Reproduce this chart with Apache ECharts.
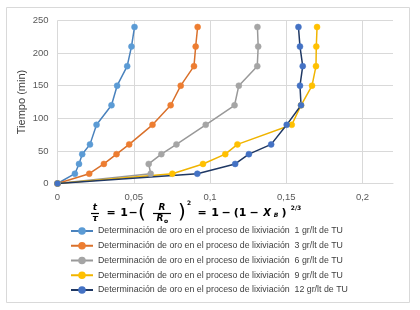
<!DOCTYPE html>
<html>
<head>
<meta charset="utf-8">
<script src="https://cdn.jsdelivr.net/npm/echarts@6/dist/echarts.min.js"></script>
<style>
html,body{margin:0;padding:0;background:#fff;}
#c{width:420px;height:310px;}
</style>
</head>
<body>
<div id="c"></div>
<script>
// Tiempo (min) — y values
var tiempo = [0, 15, 30, 45, 60, 90, 120, 150, 180, 210, 240];
// t/τ values (x) per series
var s1 = [0, 0.0114, 0.0141, 0.0162, 0.0213, 0.0256, 0.0354, 0.0391, 0.0457, 0.0485, 0.0505];
var s2 = [0, 0.0208, 0.0304, 0.0387, 0.0470, 0.0623, 0.0742, 0.0808, 0.0895, 0.0906, 0.0919];
var s3 = [0, 0.0611, 0.0598, 0.0681, 0.0780, 0.0972, 0.1161, 0.1189, 0.1310, 0.1316, 0.1311];
var s4 = [0, 0.0753, 0.0954, 0.1100, 0.1180, 0.1536, 0.1597, 0.1669, 0.1695, 0.1697, 0.1702];
var s5 = [0, 0.0917, 0.1165, 0.1255, 0.1401, 0.1503, 0.1597, 0.1590, 0.1608, 0.1590, 0.1580];
var seriesNames = [
  'Determinación de oro en el proceso de lixiviación  1 gr/lt de TU',
  'Determinación de oro en el proceso de lixiviación  3 gr/lt de TU',
  'Determinación de oro en el proceso de lixiviación  6 gr/lt de TU',
  'Determinación de oro en el proceso de lixiviación  9 gr/lt de TU',
  'Determinación de oro en el proceso de lixiviación  12 gr/lt de TU'
];
var xTicks = [0, 0.05, 0.1, 0.15, 0.2];
var yTicks = [0, 50, 100, 150, 200, 250];

var markerColors = ['#5B9BD5', '#ED7D31', '#A5A5A5', '#FFC000', '#4472C4'];
var lineColors = ['#4a82bd', '#d9702b', '#999999', '#f0b400', '#1f3864'];
var allX = [s1, s2, s3, s4, s5];

function pairs(xs) { return xs.map(function (v, i) { return [v, tiempo[i]]; }); }

var series = allX.map(function (xs, k) {
  return {
    name: seriesNames[k],
    type: 'line',
    data: pairs(xs),
    symbol: 'circle',
    symbolSize: 6,
    showSymbol: true,
    smooth: false,
    lineStyle: { color: lineColors[k], width: 1.5 },
    itemStyle: { color: markerColors[k], borderColor: markerColors[k], borderWidth: 0.5 },
    emphasis: { disabled: true },
    animation: false
  };
});

var eqFont = 'DejaVu Sans';
function T(x, y, s, size, style, weight) {
  return { type: 'text', x: x, y: y, style: { text: s, font: (style || 'normal') + ' ' + (weight || 'bold') + ' ' + size + 'px "' + eqFont + '"', fill: '#000', align: 'center', verticalAlign: 'middle' } };
}
function L(x1, x2, y) {
  return { type: 'line', shape: { x1: x1, y1: y, x2: x2, y2: y }, style: { stroke: '#000', lineWidth: 1.2 } };
}

var chart = echarts.init(document.getElementById('c'), null, { renderer: 'canvas' });
chart.setOption({
  backgroundColor: '#fff',
  animation: false,
  grid: { left: 57.5, right: 27, top: 20.5, bottom: 126.5, containLabel: false },
  xAxis: {
    type: 'value', min: 0, max: 0.22, interval: 0.05,
    axisLine: { show: true, lineStyle: { color: '#d9d9d9' } },
    axisTick: { show: false },
    axisLabel: {
      color: '#595959', fontSize: 9.5, fontFamily: 'Liberation Sans', margin: 9,
      showMaxLabel: false,
      formatter: function (v) { return xTicks.indexOf(v) >= 0 ? String(v).replace('.', ',') : ''; }
    },
    splitLine: { show: true, lineStyle: { color: ['#d9d9d9', '#d9d9d9', '#d9d9d9', '#d9d9d9', '#d9d9d9', 'rgba(0,0,0,0)'], width: 1 } }
  },
  yAxis: {
    type: 'value', min: 0, max: 250, interval: 50,
    name: 'Tiempo (min)', nameLocation: 'middle', nameGap: 30, nameMoveOverlap: false,
    nameTextStyle: { color: '#404040', fontSize: 11, fontFamily: 'Liberation Sans' },
    axisLine: { show: false },
    axisTick: { show: false },
    axisLabel: {
      color: '#595959', fontSize: 9.5, fontFamily: 'Liberation Sans', margin: 9,
      formatter: function (v) { return yTicks.indexOf(v) >= 0 ? String(v) : ''; }
    },
    splitLine: { show: true, lineStyle: { color: '#d9d9d9', width: 1 } }
  },
  legend: {
    orient: 'vertical', left: 70, top: 226.5, padding: 0,
    itemWidth: 22, itemHeight: 7, itemGap: 5.75,
    data: seriesNames,
    selectedMode: false,
    textStyle: { color: '#404040', fontSize: 8.8, lineHeight: 9, fontFamily: 'Liberation Sans' }
  },
  graphic: [
    { type: 'rect', shape: { x: 6.5, y: 7.5, width: 403, height: 295 }, style: { fill: 'none', stroke: '#d9d9d9', lineWidth: 1 }, z: -1 },
    T(95, 208, 't', 9, 'italic'),
    L(91, 99, 213.5),
    T(95, 219, 'τ', 9, 'italic'),
    T(111, 213, '=', 11),
    T(124, 213, '1', 11),
    T(133, 213, '−', 11),
    T(142, 213, '(', 20, 'normal', 'normal'),
    T(162, 208, 'R', 9, 'italic'),
    L(153, 171, 213.5),
    T(160, 219, 'R', 9, 'italic'),
    T(166, 221, 'o', 6),
    T(182, 213, ')', 20, 'normal', 'normal'),
    T(189, 203, '2', 6),
    T(202, 213, '=', 11),
    T(215, 213, '1', 11),
    T(226, 213, '−', 11),
    T(240, 213, '(1', 11),
    T(254, 213, '−', 11),
    T(267, 213, 'X', 10, 'italic'),
    T(276, 215, 'B', 6, 'italic'),
    T(284, 213, ')', 11),
    T(296, 208, '2/3', 6)
  ],
  series: series
});
</script>
</body>
</html>
